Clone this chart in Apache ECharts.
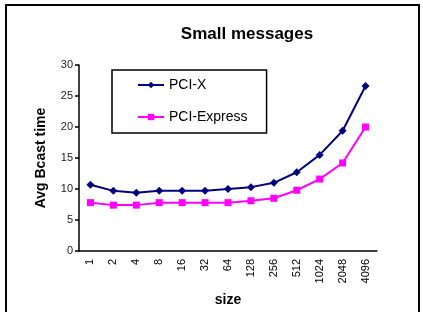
<!DOCTYPE html>
<html>
<head>
<meta charset="utf-8">
<script src="https://cdn.jsdelivr.net/npm/echarts@6/dist/echarts.min.js"></script>
<style>
  html, body { margin: 0; padding: 0; background: #fff; }
  #chart { width: 423px; height: 312px; }
</style>
</head>
<body>
<div id="chart"></div>
<script>
// message sizes
const sizes = ["1", "2", "4", "8", "16", "32", "64", "128", "256", "512", "1024", "2048", "4096"];
const pciX = [10.7, 9.7, 9.4, 9.7, 9.7, 9.7, 10.0, 10.3, 11.0, 12.7, 15.5, 19.4, 26.6];
const pciExpress = [7.8, 7.4, 7.4, 7.8, 7.8, 7.8, 7.8, 8.1, 8.5, 9.8, 11.6, 14.2, 20.0];

const font = "Liberation Sans, Arial, sans-serif";

let myEchart = echarts.init(document.getElementById("chart"));
myEchart.setOption({
  animation: false,
  title: {
    text: "Small messages",
    left: 242,
    top: 21,
    textAlign: "center",
    textStyle: { fontFamily: font, fontSize: 17, fontWeight: "bold", color: "#000" }
  },
  // outer frame
  graphic: [{
    type: "rect",
    shape: { x: 6, y: 5, width: 413, height: 320 },
    style: { fill: "none", stroke: "#000", lineWidth: 2 }
  }],
  legend: {
    orient: "vertical",
    left: 112,
    top: 70,
    padding: [8, 19, 9, 25],
    itemWidth: 26,
    itemHeight: 8,
    itemGap: 18,
    borderColor: "#000",
    borderWidth: 1.5,
    textStyle: { fontFamily: font, fontSize: 14, color: "#000" },
    data: ["PCI-X", "PCI-Express"]
  },
  grid: { left: 79, top: 65, right: 46, bottom: 61 },
  xAxis: {
    type: "category",
    data: sizes,
    name: "size",
    nameLocation: "middle",
    nameGap: 42,
    nameTextStyle: { fontFamily: font, fontSize: 14, fontWeight: "bold", color: "#000" },
    axisLine: { lineStyle: { color: "#000", width: 1.5 } },
    axisTick: { alignWithLabel: false, length: 4, lineStyle: { color: "#000", width: 1.5 } },
    axisLabel: { rotate: 90, fontFamily: font, fontSize: 11, color: "#000", margin: 8, interval: 0 },
    splitLine: { show: false }
  },
  yAxis: {
    type: "value",
    min: 0,
    max: 30,
    interval: 5,
    name: "Avg Bcast time",
    nameLocation: "middle",
    nameGap: 31,
    nameTextStyle: { fontFamily: font, fontSize: 14, fontWeight: "bold", color: "#000" },
    axisLine: { show: true, lineStyle: { color: "#000", width: 1.5 } },
    axisTick: { show: true, length: 4, lineStyle: { color: "#000", width: 1.5 } },
    axisLabel: { fontFamily: font, fontSize: 11, color: "#222", margin: 6 },
    splitLine: { show: false }
  },
  series: [
    {
      name: "PCI-X",
      type: "line",
      data: pciX,
      symbol: "diamond",
      symbolSize: 8,
      itemStyle: { color: "#000080" },
      lineStyle: { color: "#000080", width: 2 }
    },
    {
      name: "PCI-Express",
      type: "line",
      data: pciExpress,
      symbol: "rect",
      symbolSize: 7,
      itemStyle: { color: "#ff00ff" },
      lineStyle: { color: "#ff00ff", width: 2 }
    }
  ]
});
</script>
</body>
</html>
